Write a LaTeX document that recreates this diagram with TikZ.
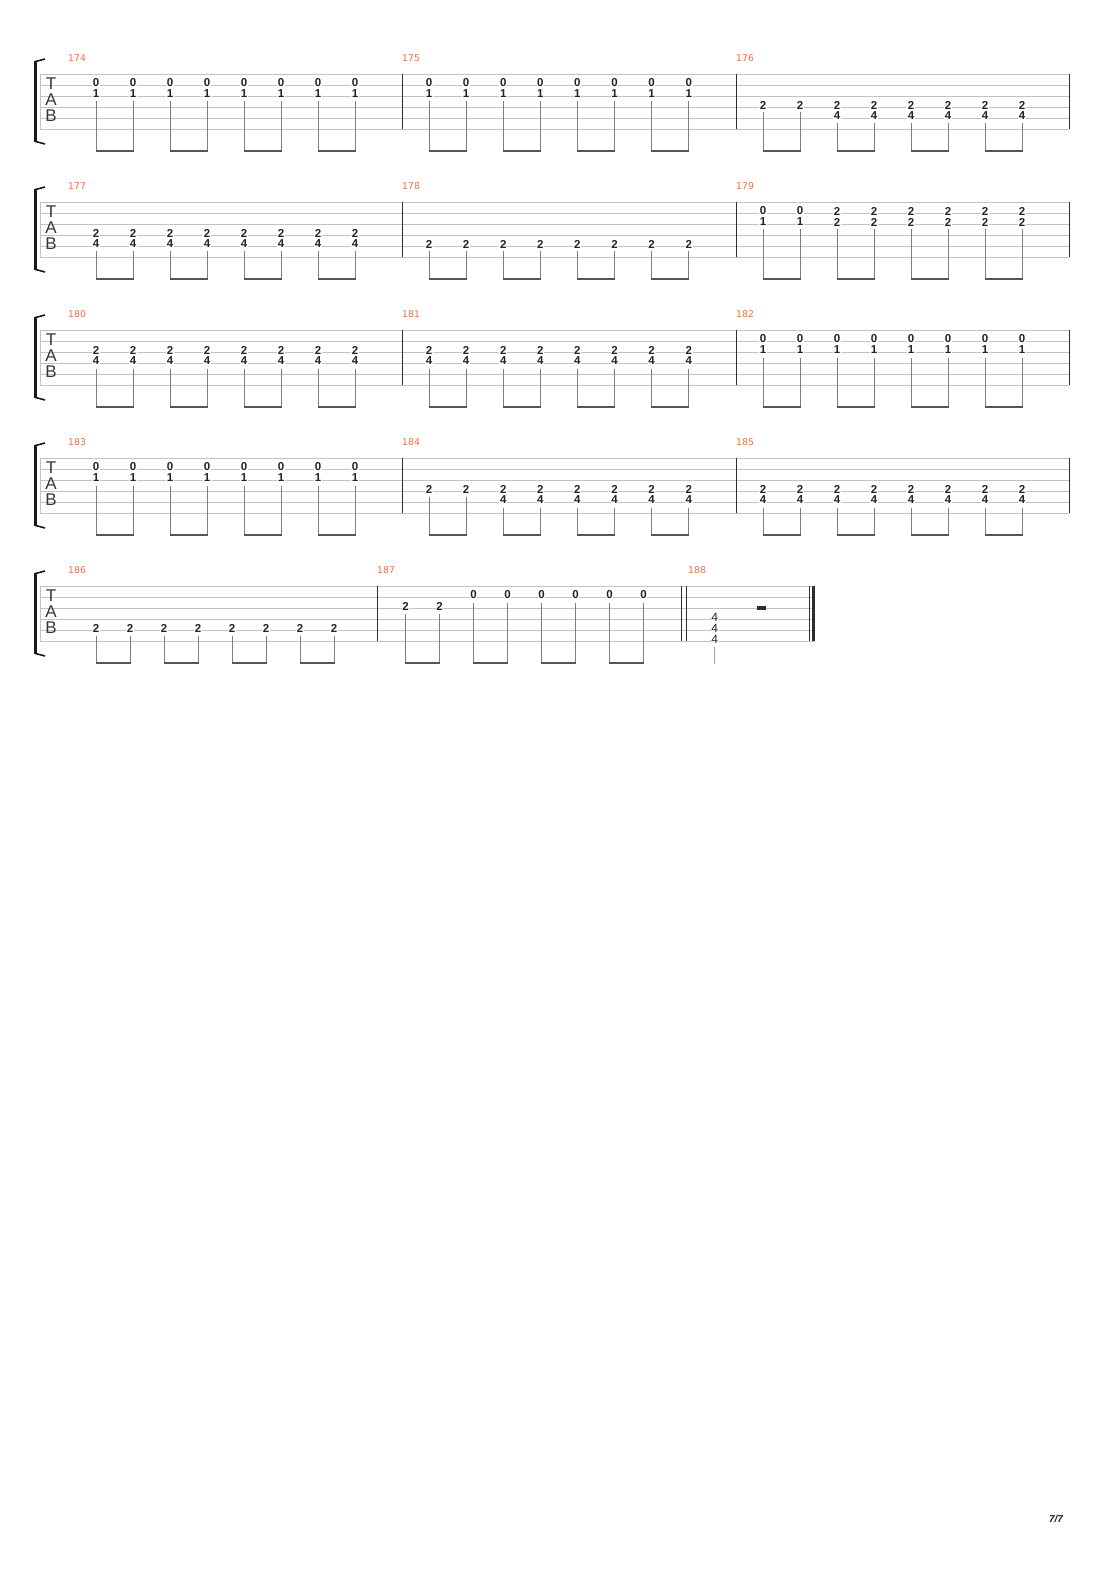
\documentclass[tikz,border=0pt]{standalone}
\usepackage{fontspec}
\setmainfont{Liberation Sans}
\newfontfamily\dejavu{DejaVu Sans}
\definecolor{staffc}{RGB}{195,195,195}
\definecolor{barc}{RGB}{45,45,45}
\definecolor{stemc}{RGB}{125,125,125}
\definecolor{beamc}{RGB}{85,85,85}
\definecolor{fretc}{RGB}{35,35,35}
\definecolor{numc}{RGB}{242,110,62}
\definecolor{clefc}{RGB}{55,55,55}
\definecolor{brackc}{RGB}{28,28,18}
\definecolor{pagec}{RGB}{25,30,50}
\tikzset{
  staffline/.style={draw=staffc,line width=0.9pt},
  barline/.style={draw=barc,line width=1pt},
  stemline/.style={draw=stemc,line width=1pt},
  beamline/.style={draw=beamc,line width=2.7pt},
  fret/.style={font=\bfseries\fontsize{11.5}{11.5}\selectfont,text=fretc,fill=white,inner sep=0.6pt},
  mnum/.style={font=\dejavu\fontsize{9.3}{9.3}\selectfont,text=numc,anchor=west,inner sep=0pt},
  clef/.style={font=\fontsize{17}{17}\selectfont,text=clefc,inner sep=0pt},
  brack/.style={draw=brackc,line width=3pt},
  brackhook/.style={draw=brackc,line width=1.6pt},
}
% staff: top y, right x
\newcommand\staff[2]{%
  \foreach \kk in {0,...,5}{\draw[staffline] (40,#1+11*\kk) -- (#2,#1+11*\kk);}
  \draw[staffline] (40.5,#1) -- (40.5,#1+55);
  \node[clef] (T#1) at (51,#1+10) {T};
  \node[clef] (A#1) at (51,#1+26) {A};
  \node[clef] (B#1) at (51,#1+42) {B};
  \draw[brack] (35.4,#1-13) -- (35.4,#1+68);
  \draw[brackhook] (34.5,#1-12.2) .. controls (39,#1-13.5) .. (45,#1-15);
  \draw[brackhook] (34.5,#1+67.2) .. controls (39,#1+68.5) .. (45,#1+70);
}
% group of notes: top, base x, spacing, from, to, lowest row, chord list row/fret
\newcommand\grp[7]{%
  \foreach \ii in {#4,...,#5}{%
    \pgfmathsetmacro\xx{#2+#3*\ii}%
    \draw[stemline] (\xx,#1+9+11*#6+7.5) -- (\xx,#1+78.3);
    \foreach \rr/\ff in {#7}{\node[fret] at (\xx,#1+9+11*\rr) {\ff};}
  }}
% beams: top, base x, spacing
\newcommand\beams[3]{%
  \foreach \jj in {0,2,4,6}{%
    \draw[beamline] ({#2+#3*\jj-0.5},#1+77) -- ({#2+#3*(\jj+1)+0.5},#1+77);
  }}
\begin{document}
\begin{tikzpicture}[x=1pt,y=-1pt]
\useasboundingbox[fill=white] (0,0) rectangle (1110,1570);

% ---------- system 1 ----------
\staff{74}{1069}
\foreach \bx in {402,736,1069}{\draw[barline] (\bx,74) -- (\bx,129);}
\node[mnum] (m174) at (68,58) {174};
\node[mnum] (m175) at (402,58) {175};
\node[mnum] (m176) at (736,58) {176};
\grp{74}{96}{37}{0}{7}{1}{0/0,1/1}\beams{74}{96}{37}
\grp{74}{429}{37.1}{0}{7}{1}{0/0,1/1}\beams{74}{429}{37.1}
\grp{74}{763}{37}{0}{1}{2}{2/2}
\grp{74}{763}{37}{2}{7}{3}{2/2,3/4}\beams{74}{763}{37}

% ---------- system 2 ----------
\staff{202}{1069}
\foreach \bx in {402,736,1069}{\draw[barline] (\bx,202) -- (\bx,257);}
\node[mnum] (m177) at (68,186) {177};
\node[mnum] (m178) at (402,186) {178};
\node[mnum] (m179) at (736,186) {179};
\grp{202}{96}{37}{0}{7}{3}{2/2,3/4}\beams{202}{96}{37}
\grp{202}{429}{37.1}{0}{7}{3}{3/2}\beams{202}{429}{37.1}
\grp{202}{763}{37}{0}{1}{1}{0/0,1/1}
\grp{202}{763}{37}{2}{7}{1}{0/2,1/2}\beams{202}{763}{37}

% ---------- system 3 ----------
\staff{330}{1069}
\foreach \bx in {402,736,1069}{\draw[barline] (\bx,330) -- (\bx,385);}
\node[mnum] (m180) at (68,314) {180};
\node[mnum] (m181) at (402,314) {181};
\node[mnum] (m182) at (736,314) {182};
\grp{330}{96}{37}{0}{7}{2}{1/2,2/4}\beams{330}{96}{37}
\grp{330}{429}{37.1}{0}{7}{2}{1/2,2/4}\beams{330}{429}{37.1}
\grp{330}{763}{37}{0}{7}{1}{0/0,1/1}\beams{330}{763}{37}

% ---------- system 4 ----------
\staff{458}{1069}
\foreach \bx in {402,736,1069}{\draw[barline] (\bx,458) -- (\bx,513);}
\node[mnum] (m183) at (68,442) {183};
\node[mnum] (m184) at (402,442) {184};
\node[mnum] (m185) at (736,442) {185};
\grp{458}{96}{37}{0}{7}{1}{0/0,1/1}\beams{458}{96}{37}
\grp{458}{429}{37.1}{0}{1}{2}{2/2}
\grp{458}{429}{37.1}{2}{7}{3}{2/2,3/4}\beams{458}{429}{37.1}
\grp{458}{763}{37}{0}{7}{3}{2/2,3/4}\beams{458}{763}{37}

% ---------- system 5 ----------
\staff{586}{815}
\foreach \bx in {377,681.7,686.3,809}{\draw[barline] (\bx,586) -- (\bx,641);}
\draw[draw=barc,line width=3pt] (813.5,586) -- (813.5,641);
\node[mnum] (m186) at (68,570) {186};
\node[mnum] (m187) at (377,570) {187};
\node[mnum] (m188) at (688,570) {188};
\grp{586}{96}{34}{0}{7}{3}{3/2}\beams{586}{96}{34}
\grp{586}{405.5}{34}{0}{1}{1}{1/2}
\grp{586}{405.5}{34}{2}{7}{0}{0/0}\beams{586}{405.5}{34}
% measure 188: chord and half rest
\draw[draw=stemc!70,line width=1pt] (714.7,646.5) -- (714.7,664);
\foreach \rr in {2,3,4}{\node[fret,font=\fontsize{12}{12}\selectfont] at (714.7,595+11*\rr) {4};}
\fill[barc] (757,605.5) rectangle (766,609.5);

% page number
\node[font=\bfseries\itshape\fontsize{10}{10}\selectfont,text=pagec,inner sep=0pt] (page) at (1056,1519) {7/7};
\end{tikzpicture}
\end{document}
